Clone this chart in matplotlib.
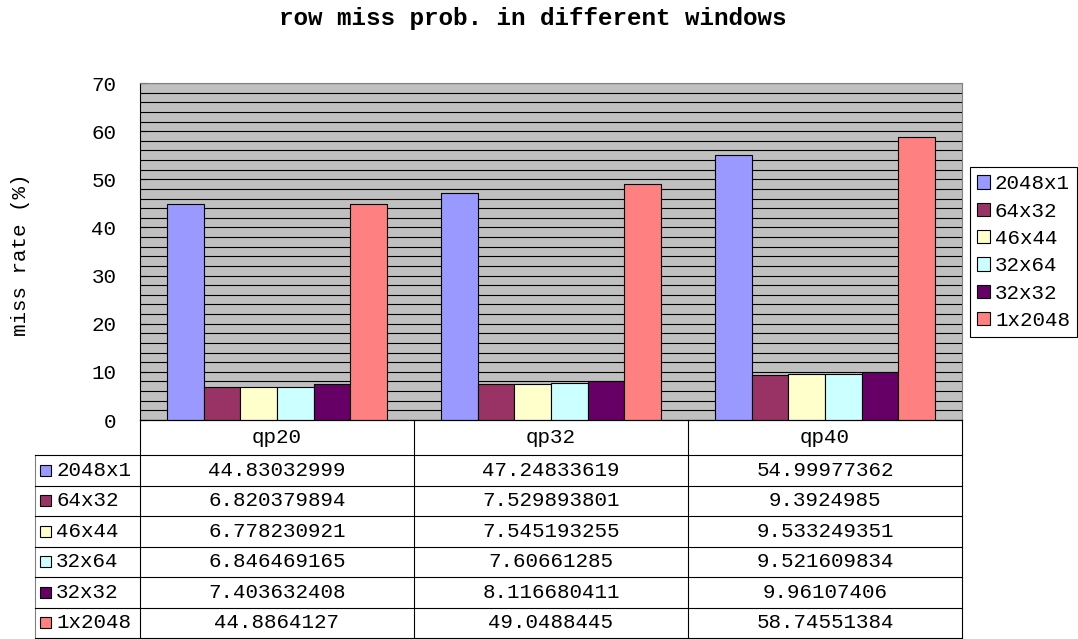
import matplotlib
matplotlib.use("Agg")
import matplotlib.pyplot as plt
import numpy as np
from matplotlib.patches import Rectangle

# miss rate (%) per window shape, for each qp setting
groups = ["qp20", "qp32", "qp40"]
windows = ["2048x1", "64x32", "46x44", "32x64", "32x32", "1x2048"]
rate_2048x1 = [44.83032999, 47.24833619, 54.99977362]
rate_64x32 = [6.820379894, 7.529893801, 9.3924985]
rate_46x44 = [6.778230921, 7.545193255, 9.533249351]
rate_32x64 = [6.846469165, 7.60661285, 9.521609834]
rate_32x32 = [7.403632408, 8.116680411, 9.96107406]
rate_1x2048 = [44.8864127, 49.0488445, 58.74551384]
# text as it appears in the data table
table_text = [
    ["44.83032999", "47.24833619", "54.99977362"],
    ["6.820379894", "7.529893801", "9.3924985"],
    ["6.778230921", "7.545193255", "9.533249351"],
    ["6.846469165", "7.60661285", "9.521609834"],
    ["7.403632408", "8.116680411", "9.96107406"],
    ["44.8864127", "49.0488445", "58.74551384"],
]
series = [rate_2048x1, rate_64x32, rate_46x44, rate_32x64, rate_32x32, rate_1x2048]
colors = ["#9999FF", "#993366", "#FFFFCC", "#CCFFFF", "#660066", "#FF8080"]

plt.rcParams["font.family"] = ["Liberation Mono", "DejaVu Sans Mono"]
FS = 15

W, H = 1078, 639
fig = plt.figure(figsize=(W / 100, H / 100), dpi=100)

# chart area in pixel terms
left, right, top, bottom = 140, 962, 83, 420
ax = fig.add_axes([left / W, 1 - bottom / H, (right - left) / W, (bottom - top) / H])
ax.set_facecolor("#C0C0C0")

x = np.arange(len(groups))
n = len(series)
bw = 1 / (n + 1.5)  # gap width 150%
for i, (vals, c, name) in enumerate(zip(series, colors, windows)):
    ax.bar(x + (i - (n - 1) / 2) * bw, vals, bw, color=c, edgecolor="black",
           linewidth=0.8, label=name, zorder=3)

ax.set_xlim(-0.5, len(groups) - 0.5)
ax.set_ylim(0, 70)
ax.set_yticks(np.arange(0, 71, 10))
ax.set_yticks(np.arange(0, 71, 2), minor=True)
ax.yaxis.grid(True, which="both", color="black", linewidth=0.8, zorder=1)
ax.set_axisbelow(True)
ax.tick_params(axis="y", which="major", direction="in", length=5, labelsize=FS, pad=17)
ax.tick_params(axis="y", which="minor", length=0)
ax.set_xticks([])
for s in ["top", "right"]:
    ax.spines[s].set_color("#808080")
ax.spines["left"].set_color("black")
ax.spines["bottom"].set_color("black")
ax.set_ylabel("miss rate (%)", fontsize=FS)
ax.yaxis.set_label_coords(-(left - 20) / (right - left), 0.49)
ax.yaxis.label.set_va("center")

fig.text(533 / W, 1 - 18 / H, "row miss prob. in different windows",
         ha="center", va="center", fontsize=17.5, fontweight="bold")

# data table below the chart
tleft, tbottom = 35, 638
head_h = 455 - bottom
row_h = (tbottom - 455) / n
tax = fig.add_axes([tleft / W, 1 - tbottom / H, (right - tleft) / W, (tbottom - bottom) / H])
col_w = (right - left) / len(groups)
lab_w = (left - tleft) / col_w
tax.set_xlim(-0.5 - lab_w, len(groups) - 0.5)
tax.set_ylim(tbottom - bottom, 0)
tax.axis("off")

lw = 0.8
# column borders
for k in range(len(groups) + 1):
    tax.plot([k - 0.5, k - 0.5], [0, tbottom - bottom], color="black", lw=lw, clip_on=False)
tax.plot([-0.5 - lab_w, -0.5 - lab_w], [head_h, tbottom - bottom], color="#808080", lw=lw, clip_on=False)
# row borders
tax.plot([-0.5, len(groups) - 0.5], [0, 0], color="black", lw=lw, clip_on=False)
for r in range(n + 1):
    y = head_h + r * row_h
    tax.plot([-0.5 - lab_w, len(groups) - 0.5], [y, y], color="black", lw=lw, clip_on=False)

for k, g in enumerate(groups):
    tax.text(k, head_h / 2, g, ha="center", va="center", fontsize=FS)
for r in range(n):
    yc = head_h + (r + 0.5) * row_h
    for k in range(len(groups)):
        tax.text(k, yc, table_text[r][k], ha="center", va="center", fontsize=FS)
    sq = 11 / col_w
    tax.add_patch(Rectangle((-0.5 - lab_w + 5 / col_w, yc - 5.5), sq, 11,
                            facecolor=colors[r], edgecolor="black", lw=0.8, clip_on=False))
    tax.text(-0.5 - lab_w + 21 / col_w, yc, windows[r], ha="left", va="center", fontsize=FS)

leg = ax.legend(loc="upper left", bbox_to_anchor=(970 / W, 1 - 167 / H),
                bbox_transform=fig.transFigure, fontsize=FS, frameon=True,
                fancybox=False, edgecolor="black", framealpha=1,
                handlelength=0.6, handleheight=0.6, handletextpad=0.25,
                labelspacing=0.4, borderpad=0.35, borderaxespad=0)
leg.get_frame().set_linewidth(0.8)

fig.savefig("out.png", dpi=100)
